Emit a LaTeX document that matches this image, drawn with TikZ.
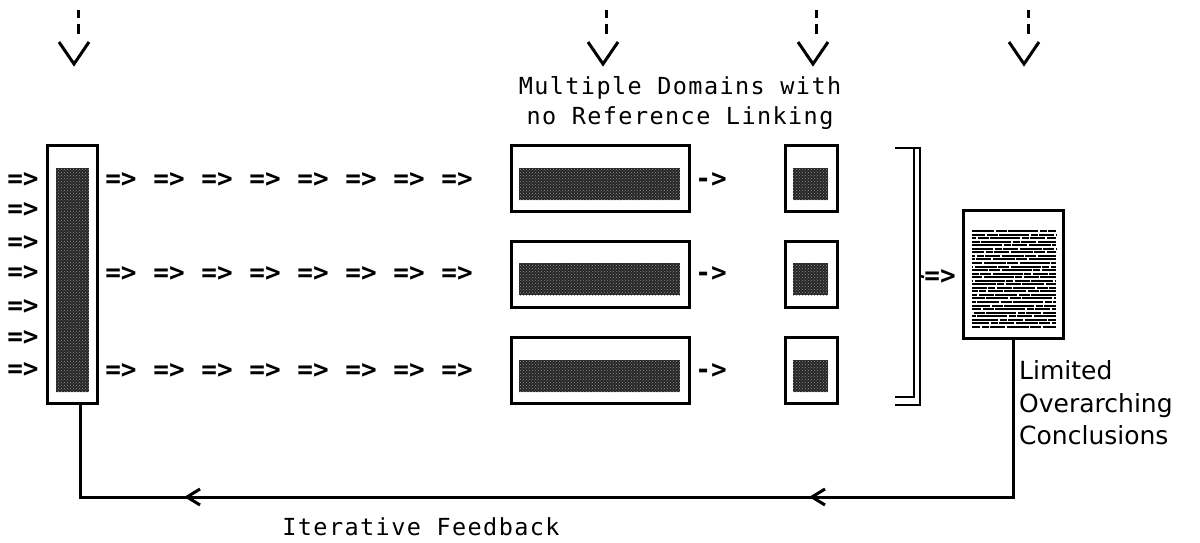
\documentclass[tikz,border=0pt]{standalone}
\usepackage{fontspec}
\setmainfont{DejaVu Sans}
\newfontfamily\monofnt[LetterSpace=6]{DejaVu Sans Mono}
\newfontfamily\arrfnt{DejaVu Sans Mono}
\usetikzlibrary{patterns,calc}
\tikzset{
  frame/.style={draw, line width=3pt, fill=white, inner sep=0pt},
  darkfill/.style={draw=none, fill=black!85, inner sep=0pt,
    postaction={pattern=crosshatch dots, pattern color=black!45}},
  arr/.style={font=\arrfnt\bfseries\fontsize{26}{26}\selectfont, inner sep=0pt},
  monotxt/.style={font=\monofnt\fontsize{23.5}{30}\selectfont, inner sep=0pt},
  sanstxt/.style={font=\fontsize{25}{32.5}\selectfont, inner sep=0pt},
  wire/.style={line width=3pt},
  thin wire/.style={line width=2.4pt},
}
\begin{document}
\begin{tikzpicture}[x=1pt,y=-1pt]
\useasboundingbox (0,0) rectangle (1200,543);

% top dashed arrows with V heads
\foreach \v/\d/\n in {74/78/1,603/606/2,813/816/3,1024/1028/4}{
  \coordinate (vt\n) at (\v,64);
  \draw[wire] (\d,10) -- (\d,18);
  \draw[wire] (\d,24) -- (\d,34);
  \draw[wire] ($(vt\n)+(-15,-22)$) -- (vt\n) -- ($(vt\n)+(15,-22)$);
}

% caption
\node[monotxt, align=center] (cap) at (680,103) {Multiple Domains with\\no Reference Linking};

% left input column box
\node[frame, minimum width=50pt, minimum height=258pt] (lbox) at (72,274) {};
\node[darkfill, minimum width=33pt, minimum height=224pt] (linner) at (72.5,280) {};

% left incoming arrows
\foreach \y/\n in {180/1,210/2,243/3,273/4,307/5,338/6,370/7}{
  \node[arr] (in\n) at (23,\y) {=>};
}

% rows
\foreach \r/\yc/\yi/\ya in {1/178.5/184/180,2/274.5/279/274,3/370.5/376/371}{
  \foreach \x/\k in {121/1,169/2,217/3,265/4,313/5,361/6,409/7,457/8}{
    \node[arr] (a\r\k) at (\x,\ya) {=>};
  }
  \node[frame, minimum width=178pt, minimum height=66pt] (dom\r) at (600,\yc) {};
  \node[darkfill, minimum width=161pt, minimum height=32pt] (domi\r) at (599.5,\yi) {};
  \node[arr] (s\r) at (711,\ya) {->};
  \node[frame, minimum width=52pt, minimum height=66pt] (sm\r) at (811,\yc) {};
  \node[darkfill, minimum width=35pt, minimum height=32pt] (smi\r) at (810.5,\yi) {};
}

% bracket
\draw[thin wire] (895,148) -- (914,148) -- (914,397) -- (895,397);
\draw[thin wire] (914,148) -- (920,148) -- (920,405) -- (895,405);
\coordinate (brk) at (920,276);
\node[arr] (toDoc) at (940,277) {=>};
\draw[thin wire] (brk) -- (toDoc.west);

% document
\node[frame, minimum width=100pt, minimum height=128pt] (doc) at (1013,274) {};
\foreach \i in {0,...,27}{
  \draw[line width=2pt, dash pattern=on 22pt off 1.5pt on 11pt off 1.5pt on 30pt off 1.5pt on 7pt off 1.5pt on 15pt off 1.5pt,
        dash phase=\i*9pt] (972,{231+3.55*\i}) -- (1056,{231+3.55*\i});
}

\node[sanstxt, anchor=west, align=left] (lim) at (1019,403) {Limited\\Overarching\\Conclusions};

% feedback loop
\coordinate (fbR) at (1013,497);
\coordinate (fbL) at (80,497);
\coordinate (lbx) at ($(lbox.south)+(8,0)$);
\draw[wire] (doc.south) -- (fbR) -- (fbL) -- (lbx);
\coordinate (ch1) at (187,497);
\coordinate (ch2) at (812,497);
\draw[wire] ($(ch1)+(13,-8)$) -- (ch1) -- ($(ch1)+(13,8)$);
\draw[wire] ($(ch2)+(13,-8)$) -- (ch2) -- ($(ch2)+(13,8)$);

\node[monotxt] (fbtxt) at (421,527) {Iterative Feedback};
\end{tikzpicture}
\end{document}
